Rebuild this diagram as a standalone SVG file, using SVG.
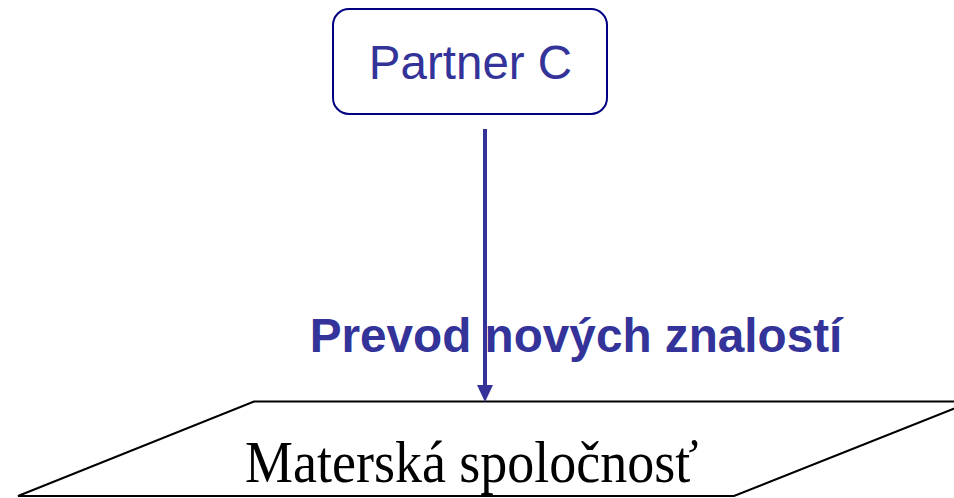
<svg xmlns="http://www.w3.org/2000/svg" width="954" height="498" viewBox="0 0 954 498">
<style>
.box{fill:#ffffff;stroke:#000080;stroke-width:2}
.para{fill:#ffffff;stroke:#000000;stroke-width:2}
.blue{fill:#333399;font-family:"Liberation Sans",Arial,sans-serif}
.serif{fill:#000000;font-family:"Liberation Serif","Times New Roman",serif}
.conn{stroke:#333399;stroke-width:4}
.head{fill:#333399}
</style>
<rect width="954" height="498" fill="#ffffff"/>
<g id="materska">
<polygon class="para" points="254,401.5 972,401.5 734,496 18,496"/>
<text class="serif" x="245" y="482" font-size="54" transform="translate(0,482) scale(1,1.08) translate(0,-482)">Materská spoločnosť</text>
</g>
<g id="partner-c">
<rect class="box" x="333" y="9" width="274" height="105" rx="16" ry="16"/>
<text class="blue" x="470.5" y="79" font-size="47.5" text-anchor="middle">Partner C</text>
</g>
<g id="connectors">
<line class="conn" x1="485" y1="129" x2="485" y2="386"/>
<path class="head" d="M477,385 L493,385 L485,402 Z"/>
</g>
<g id="label">
<text class="blue" x="576" y="352" font-size="47.7" font-weight="bold" text-anchor="middle">Prevod nových znalostí</text>
</g>
</svg>
